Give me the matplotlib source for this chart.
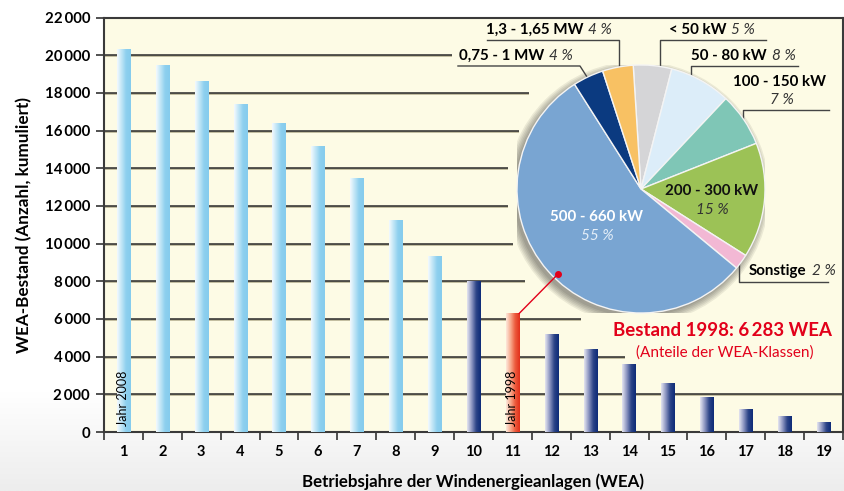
import numpy as np
import matplotlib
matplotlib.use("Agg")
import matplotlib.pyplot as plt
from matplotlib.colors import LinearSegmentedColormap
from matplotlib.patches import ConnectionPatch, Circle

plt.rcParams['font.family'] = ['Lato', 'DejaVu Sans']

# --- data ---------------------------------------------------------------
betriebsjahre = list(range(1, 20))
bestand = [20300, 19430, 18600, 17380, 16400, 15130, 13430, 11200, 9300,
           7980, 6283, 5200, 4400, 3560, 2550, 1820, 1170, 810, 480]
bar_gruppe = ['hell'] * 9 + ['dunkel', 'rot'] + ['dunkel'] * 8
y_ticks = [0, 2000, 4000, 6000, 8000, 10000, 12000, 14000, 16000, 18000, 20000, 22000]

klassen = ['< 50 kW', '50 - 80 kW', '100 - 150 kW', '200 - 300 kW', 'Sonstige',
           '500 - 660 kW', '0,75 - 1 MW', '1,3 - 1,65 MW']
anteile = [5, 8, 7, 15, 2, 55, 4, 4]
klassen_farben = ['#d5d5d7', '#dcedf9', '#7fc6b6', '#9cc256', '#f2b8d4',
                  '#79a5d2', '#0b3a80', '#f8c163']

# right end of each grid line (x in category units), kept clear of the pie
grid_ende = {2000: 19.5, 4000: 13.89, 6000: 12.76, 8000: 11.32, 10000: 11.01,
             12000: 10.89, 14000: 10.89, 16000: 11.17, 18000: 11.43, 20000: 9.45}

CREAM = '#fdfbe5'
RED = '#e2001a'

fig = plt.figure(figsize=(8.45, 4.91), dpi=100)

# soft grey floor behind the x axis
bg = fig.add_axes([0, 0, 1, 1], zorder=-10)
yy = np.linspace(0, 1, 200)
grad = np.repeat(np.clip((yy - 0.80) / 0.2, 0, 1)[:, None], 2, axis=1)
bg.imshow(grad, extent=[0, 1, 0, 1], origin='upper', aspect='auto',
          cmap=LinearSegmentedColormap.from_list('bgc', ['#ffffff', '#ededed']),
          vmin=0, vmax=1)
bg.set_xlim(0, 1); bg.set_ylim(0, 1)
bg.axis('off')

ax = fig.add_axes([104 / 845, 59 / 491, 739 / 845, 414.5 / 491])
ax.set_facecolor(CREAM)

cmaps = {
    'hell': LinearSegmentedColormap.from_list('hell', ['#f4fafe', '#bfe5f6', '#8ccfee', '#86cced']),
    'dunkel': LinearSegmentedColormap.from_list('dunkel', ['#e6e6f1', '#8e97c2', '#2c4487', '#0d2b78']),
    'rot': LinearSegmentedColormap.from_list('rot', ['#fde9dc', '#f7a98c', '#ec5a3c', '#e2301b']),
}
gradient = np.linspace(0, 1, 64)[None, :]
bw = 0.34
for x, h, g in zip(betriebsjahre, bestand, bar_gruppe):
    ax.imshow(gradient, extent=[x - bw / 2, x + bw / 2, 0, h], aspect='auto',
              cmap=cmaps[g], interpolation='bicubic', zorder=3)

# horizontal grid lines with a faint shadow
for yv, xe in grid_ende.items():
    ax.plot([0.5, xe], [yv - 55, yv - 55], color='#b8b294', lw=1.2, zorder=1,
            solid_capstyle='butt')
    ax.plot([0.5, xe], [yv, yv], color='#2a2a2a', lw=1.1, zorder=2,
            solid_capstyle='butt')

ax.set_xlim(0.5, 19.5)
ax.set_ylim(0, 22000)
ax.set_yticks(y_ticks)
ax.set_yticklabels([f"{v:,}".replace(',', '\u2009') for v in y_ticks],
                   fontsize=10.8, fontweight='bold')
ax.set_xticks(np.arange(0.5, 20, 1))
ax.set_xticklabels([])
ax.set_xticks(betriebsjahre, minor=True)
ax.set_xticklabels([str(v) for v in betriebsjahre], minor=True,
                   fontsize=10.5, fontweight='bold')
ax.tick_params(axis='x', which='minor', length=0, pad=9)
ax.tick_params(axis='x', which='major', length=6, width=1.2, color='#333')
ax.tick_params(axis='y', length=6, width=1.2, color='#333', pad=4)
for s in ax.spines.values():
    s.set_color('#3a3a3a')
    s.set_linewidth(1.5)

ax.set_ylabel('WEA-Bestand (Anzahl, kumuliert)', fontsize=12.3, fontweight='bold',
              labelpad=9)
ax.set_xlabel('Betriebsjahre der Windenergieanlagen (WEA)', fontsize=12.2,
              fontweight='bold', labelpad=11)

ax.text(1, 300, 'Jahr 2008', rotation=90, ha='center', va='bottom', fontsize=9,
        zorder=5)
ax.text(11, 300, 'Jahr 1998', rotation=90, ha='center', va='bottom', fontsize=9,
        zorder=5)

ax.text(0.985, 0.246, 'Bestand 1998: 6\u2009283 WEA', transform=ax.transAxes,
        ha='right', va='center', color=RED, fontsize=13.4, fontweight='bold')
ax.text(0.840, 0.192, '(Anteile der WEA-Klassen)', transform=ax.transAxes,
        ha='center', va='center', color=RED, fontsize=11)

# --- pie of size classes -------------------------------------------------
pax = fig.add_axes([(641 - 124) / 845, (491 - 189 - 124) / 491, 248 / 845, 248 / 491])
pax.axis('off')
for k in range(6):
    pax.add_patch(Circle((-0.025, -0.03), 1.0 + 0.012 * k, color='#000000',
                         alpha=0.07, lw=0, zorder=0))
wedges, _ = pax.pie(anteile, colors=klassen_farben, startangle=93.6,
                    counterclock=False, radius=1.0,
                    wedgeprops=dict(edgecolor='#f4f4f4', linewidth=1.0))
for w in wedges:
    w.set_zorder(2)
pax.set_xlim(-1, 1)
pax.set_ylim(-1, 1)
pax.set_aspect('auto')

LEAD = dict(color='#444444', lw=1.0, clip_on=False, zorder=1)
bold = dict(fontsize=10.9, fontweight='bold', clip_on=False)
ital = dict(fontsize=11, style='italic', color='#333333', clip_on=False)

# inner labels
pax.text(-0.355, -0.225, klassen[5], ha='center', va='center', color='white', **bold)
pax.text(-0.355, -0.375, f'{anteile[5]} %', ha='center', va='center',
         fontsize=11, style='italic', color='#e4eef8')
pax.text(0.573, -0.02, klassen[3], ha='center', va='center', color='#111111', **bold)
pax.text(0.573, -0.17, f'{anteile[3]} %', ha='center', va='center', **ital)

# outer labels with leaders: (text x, text y, leader points)
aussen = {
    0: (0.226, 1.285, [(0.153, 0.988), (0.153, 1.202), (1.008, 1.202)]),
    1: (0.403, 1.075, [(0.403, 0.915), (0.403, 0.992), (1.266, 0.992)]),
    4: (0.871, -0.66, [(0.79, -0.597), (0.79, -0.75), (1.508, -0.75)]),
    6: (-1.468, 1.075, [(-0.435, 0.903), (-0.492, 0.992), (-1.476, 0.992)]),
    7: (-1.25, 1.285, [(-0.177, 0.984), (-0.177, 1.202), (-1.242, 1.202)]),
}
renderer = fig.canvas.get_renderer()
for i, (tx, ty, pts) in aussen.items():
    xs, ys = zip(*pts)
    pax.plot(xs, ys, **LEAD)
    t1 = pax.text(tx, ty, klassen[i], ha='left', va='center', **bold)
    bb = t1.get_window_extent(renderer=renderer)
    x_end = pax.transData.inverted().transform((bb.x1, bb.y0))[0]
    pax.text(x_end + 0.04, ty, f'{anteile[i]} %', ha='left', va='center', **ital)

# 100 - 150 kW: two lines
pax.plot([0.823, 0.823, 1.516], [0.575, 0.637, 0.637], **LEAD)
pax.text(1.12, 0.86, klassen[2], ha='center', va='center', **bold)
pax.text(1.14, 0.72, f'{anteile[2]} %', ha='center', va='center', **ital)

# red pointer from the 1998 bar into the pie
ang = np.deg2rad(225.7)
dot = (0.96 * np.cos(ang), 0.96 * np.sin(ang))
pax.plot(*dot, 'o', color=RED, ms=4, zorder=5, clip_on=False)
con = ConnectionPatch(xyA=(11 + bw / 2, bestand[10]), coordsA=ax.transData,
                      xyB=dot, coordsB=pax.transData, color=RED, lw=1.0, zorder=6)
fig.add_artist(con)

fig.savefig('out.png', dpi=100)
